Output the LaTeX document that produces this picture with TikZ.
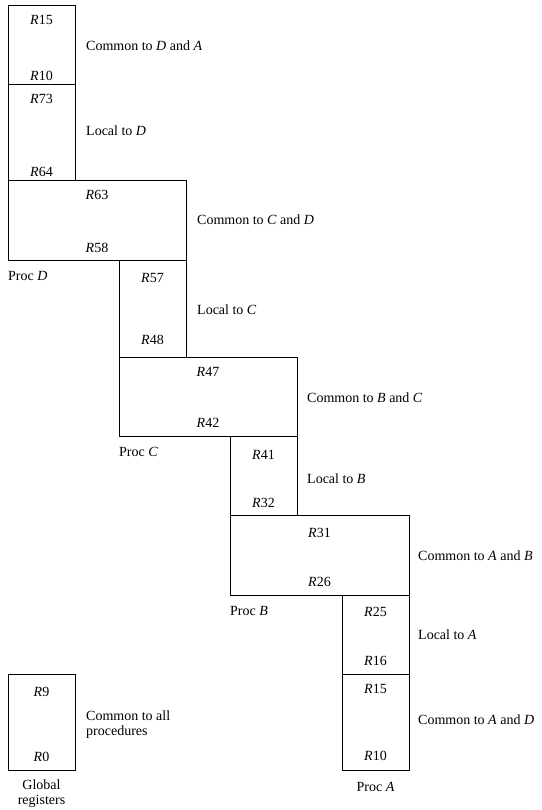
\documentclass[tikz,border=0pt]{standalone}
\usepackage{fontspec}
\setmainfont{Liberation Serif}
\begin{document}
\begin{tikzpicture}[x=1pt,y=-1pt,
  font=\fontsize{14}{15}\selectfont,
  regbox/.style={draw, line width=1.3pt, inner sep=0pt, anchor=north west},
  reg/.style={inner sep=0pt, anchor=center},
  side/.style={inner sep=0pt, anchor=west, align=left},
  proc/.style={inner sep=0pt, anchor=west},
  ]
\useasboundingbox (0,0) rectangle (541,810);
% boxes
\node[regbox, minimum width=67pt, minimum height=79pt] (b1) at (8,5) {};
\node[regbox, minimum width=67pt, minimum height=96pt] (b2) at (8,84) {};
\node[regbox, minimum width=178pt, minimum height=80pt] (b3) at (8,180) {};
\node[regbox, minimum width=67pt, minimum height=97pt] (b4) at (119,260) {};
\node[regbox, minimum width=178pt, minimum height=79pt] (b5) at (119,357) {};
\node[regbox, minimum width=67pt, minimum height=79pt] (b6) at (230,436) {};
\node[regbox, minimum width=179pt, minimum height=80pt] (b7) at (230,515) {};
\node[regbox, minimum width=67pt, minimum height=79pt] (b8) at (342,595) {};
\node[regbox, minimum width=67pt, minimum height=96pt] (b9) at (342,674) {};
\node[regbox, minimum width=67pt, minimum height=96pt] (g) at (8,674) {};
% register labels
\node[reg] (r1t) at (41.5,20) {\textit{R}15};
\node[reg] (r1b) at (41.5,76) {\textit{R}10};
\node[reg] (r2t) at (41.5,99) {\textit{R}73};
\node[reg] (r2b) at (41.5,172) {\textit{R}64};
\node[reg] (r3t) at (97,195) {\textit{R}63};
\node[reg] (r3b) at (97,248) {\textit{R}58};
\node[reg] (r4t) at (152.5,278) {\textit{R}57};
\node[reg] (r4b) at (152.5,340) {\textit{R}48};
\node[reg] (r5t) at (208,372) {\textit{R}47};
\node[reg] (r5b) at (208,423) {\textit{R}42};
\node[reg] (r6t) at (263.5,455) {\textit{R}41};
\node[reg] (r6b) at (263.5,503) {\textit{R}32};
\node[reg] (r7t) at (319.5,533) {\textit{R}31};
\node[reg] (r7b) at (319.5,582) {\textit{R}26};
\node[reg] (r8t) at (375.5,612) {\textit{R}25};
\node[reg] (r8b) at (375.5,661) {\textit{R}16};
\node[reg] (r9t) at (375.5,689) {\textit{R}15};
\node[reg] (r9b) at (375.5,756) {\textit{R}10};
\node[reg] (gt) at (41.5,692) {\textit{R}9};
\node[reg] (gb) at (41.5,757) {\textit{R}0};
% side labels
\node[side] (s1) at (86,46) {Common to \textit{D} and \textit{A}};
\node[side] (s2) at (86,131) {Local to \textit{D}};
\node[side] (s3) at (197,220) {Common to \textit{C} and \textit{D}};
\node[side] (s4) at (197,310) {Local to \textit{C}};
\node[side] (s5) at (307,398) {Common to \textit{B} and \textit{C}};
\node[side] (s6) at (307,479) {Local to \textit{B}};
\node[side] (s7) at (418,556) {Common to \textit{A} and \textit{B}};
\node[side] (s8) at (418,635) {Local to \textit{A}};
\node[side] (s9) at (418,720) {Common to \textit{A} and \textit{D}};
\node[side] (sg) at (86,725) {Common to all\\procedures};
% procedure labels
\node[proc] (pD) at (8,276) {Proc \textit{D}};
\node[proc] (pC) at (119,452) {Proc \textit{C}};
\node[proc] (pB) at (230,611) {Proc \textit{B}};
\node[inner sep=0pt] (pA) at (375.5,787) {Proc \textit{A}};
\node[inner sep=0pt, align=center] (pg) at (41.5,794) {Global\\registers};
\end{tikzpicture}
\end{document}
